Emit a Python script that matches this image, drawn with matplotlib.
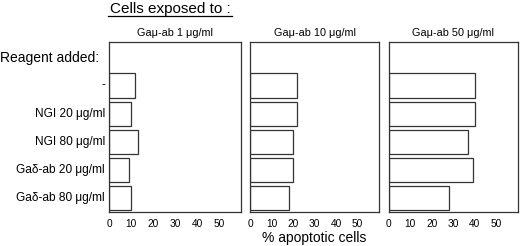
import matplotlib
matplotlib.use('Agg')
from matplotlib import pyplot as plt

plt.rcParams['font.family'] = ['Liberation Sans', 'DejaVu Sans']

# Data
reagents = ['-', 'NGI 20 μg/ml', 'NGI 80 μg/ml', 'Gaδ-ab 20 μg/ml', 'Gaδ-ab 80 μg/ml']
panel_titles = ['Gaμ-ab 1 μg/ml', 'Gaμ-ab 10 μg/ml', 'Gaμ-ab 50 μg/ml']
apoptotic_1 = [12, 10, 13, 9, 10]
apoptotic_10 = [22, 22, 20, 20, 18]
apoptotic_50 = [40, 40, 37, 39, 28]
xticks = [0, 10, 20, 30, 40, 50]

values = [apoptotic_1, apoptotic_10, apoptotic_50]
# axes rectangles in pixels (left, right)
px = [(109, 241), (250, 379), (388.5, 518)]
W, H = 520, 246
top, bottom = 42, 212

fig = plt.figure(figsize=(W / 100, H / 100), dpi=100)
ec = '#333333'
for i in range(3):
    l, r = px[i]
    ax = fig.add_axes([l / W, 1 - bottom / H, (r - l) / W, (bottom - top) / H])
    ax.barh(range(len(reagents)), values[i], height=0.86, left=0,
            facecolor='white', edgecolor=ec, linewidth=0.9)
    ax.set_xlim(0, 60)
    ax.set_ylim(4.5, -1.55)
    ax.set_xticks(xticks)
    ax.set_xticklabels([str(t) for t in xticks], fontsize=7.3)
    ax.tick_params(axis='x', length=0, pad=5)
    ax.set_yticks([])
    for s in ax.spines.values():
        s.set_linewidth(0.9)
        s.set_color(ec)
    ax.set_title(panel_titles[i], fontsize=7.8, pad=4)
    if i == 0:
        for j, lab in enumerate(reagents):
            ax.text(-0.03, j, lab, transform=ax.get_yaxis_transform(),
                    ha='right', va='center', fontsize=8.6)
        fig.text(0, 1 - 58 / H, 'Reagent added:', ha='left', va='center',
                 fontsize=10)

fig.text(170 / W, 1 - 8.5 / H, 'Cells exposed to :', ha='center', va='center',
         fontsize=11)
fig.add_artist(plt.Line2D([108 / W, 232 / W], [1 - 15.5 / H, 1 - 15.5 / H],
                          color='black', linewidth=0.9))
fig.text(314 / W, 1 - 238 / H, '% apoptotic cells', ha='center', va='center',
         fontsize=10)

fig.savefig('out.png', dpi=100)
